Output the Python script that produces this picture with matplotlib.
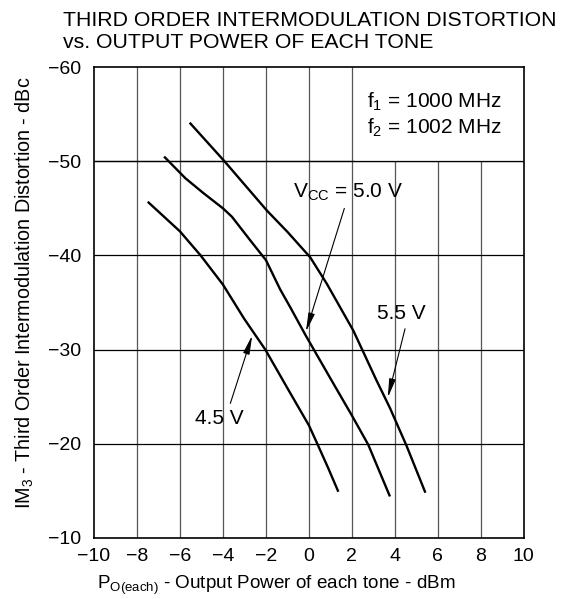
import matplotlib
matplotlib.use('Agg')
import matplotlib.pyplot as plt
from matplotlib.patches import Rectangle

# curve data (Po in dBm, IM3 in dBc)
po_55 = [-5.55, -3.93, -1.95, -1.0, 0.06, 0.83, 2.07, 3.15, 3.77, 4.54, 5.42]
im3_55 = [-54.1, -50.0, -44.75, -42.5, -39.8, -37.0, -32.0, -26.7, -23.8, -19.8, -14.8]

po_50 = [-6.74, -5.75, -4.9, -4.0, -3.58, -2.73, -2.0, -1.34, -0.87, -0.15, 1.06, 2.0, 2.76, 3.77]
im3_50 = [-50.5, -48.2, -46.6, -45.0, -44.1, -41.6, -39.5, -36.4, -34.5, -31.5, -26.7, -23.0, -19.9, -14.4]

po_45 = [-7.5, -6.0, -5.04, -4.0, -3.02, -2.03, -1.0, 0.0, 0.39, 0.9, 1.37]
im3_45 = [-45.7, -42.55, -40.0, -36.9, -33.3, -30.0, -25.9, -21.95, -20.0, -17.4, -14.9]

xticks = [-10, -8, -6, -4, -2, 0, 2, 4, 6, 8, 10]
yticks = [-60, -50, -40, -30, -20, -10]

plt.rcParams['font.family'] = ['Liberation Sans', 'DejaVu Sans']
plt.rcParams['mathtext.fontset'] = 'custom'
plt.rcParams['mathtext.rm'] = 'Liberation Sans'
plt.rcParams['mathtext.it'] = 'Liberation Sans'

fig = plt.figure(figsize=(5.75, 5.99), dpi=100)
ax = fig.add_axes([0.1635, 0.102, 0.7475, 0.786])

ax.set_xlim(-10, 10)
ax.set_ylim(-10, -60)
ax.set_xticks(xticks)
ax.set_yticks(yticks)
ax.tick_params(axis='x', length=0, labelsize=14, pad=7)
ax.tick_params(axis='y', length=0, labelsize=14, pad=9)

for x in xticks[1:-1]:
    ax.axvline(x, color='#555555', lw=0.9, zorder=1)
for y in yticks[1:-1]:
    ax.axhline(y, color='black', lw=0.9, zorder=1)

# white box behind the frequency note hides the grid there
ax.add_patch(Rectangle((2.15, -60), 7.85, 10, facecolor='white', edgecolor='none', zorder=1.5))
ax.axhline(-50, color='black', lw=0.9, zorder=1.6)

for s in ax.spines.values():
    s.set_linewidth(1.2)

for px, py in [(po_55, im3_55), (po_50, im3_50), (po_45, im3_45)]:
    ax.plot(px, py, color='black', lw=1.7, zorder=3, solid_capstyle='butt', solid_joinstyle='round')

ax.text(2.68, -56.3, r'f$\mathregular{_1}$ = 1000 MHz', fontsize=15, va='center', zorder=4)
ax.text(2.68, -53.6, r'f$\mathregular{_2}$ = 1002 MHz', fontsize=15, va='center', zorder=4)

arrow = dict(arrowstyle='-|>,head_width=0.13,head_length=0.75', lw=0.8, color='black', shrinkA=2, shrinkB=0)
ax.annotate(r'V$\mathregular{_{CC}}$ = 5.0 V', xy=(-0.14, -31.9), xytext=(1.83, -46.7),
            fontsize=15, ha='center', va='center', zorder=4,
            arrowprops=dict(arrow, relpos=(0.48, 0.0)))
ax.annotate('5.5 V', xy=(3.67, -24.9), xytext=(4.31, -33.8),
            fontsize=15, ha='center', va='center', zorder=4,
            arrowprops=dict(arrow, relpos=(0.6, 0.0)))
ax.annotate('4.5 V', xy=(-2.64, -31.5), xytext=(-4.19, -22.7),
            fontsize=15, ha='center', va='center', zorder=4,
            arrowprops=dict(arrow, relpos=(0.7, 1.0)))

ax.set_xlabel(r'P$\mathregular{_{O(each)}}$ - Output Power of each tone - dBm', fontsize=13.6)
ax.set_ylabel(r'IM$\mathregular{_3}$ - Third Order Intermodulation Distortion - dBc', fontsize=14.2)
ax.xaxis.set_label_coords(0.424, -0.077)
ax.yaxis.set_label_coords(-0.135, 0.52)

fig.text(0.11, 0.982, 'THIRD ORDER INTERMODULATION DISTORTION\nvs. OUTPUT POWER OF EACH TONE',
         fontsize=15.3, ha='left', va='top', linespacing=1.2)

fig.savefig('out.png', dpi=100)
